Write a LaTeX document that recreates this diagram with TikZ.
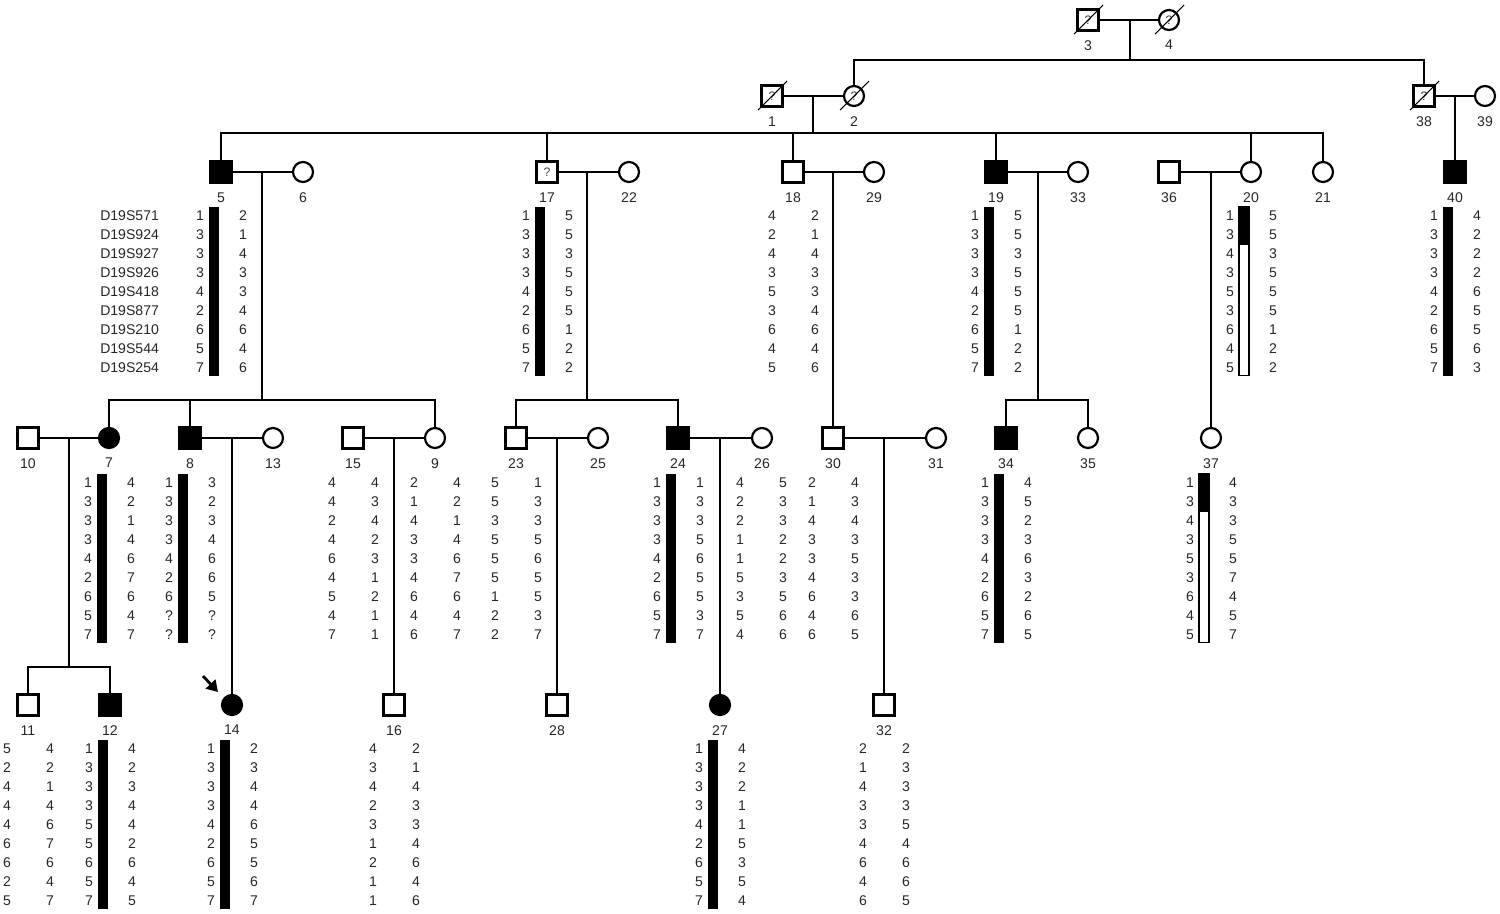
\documentclass[tikz,border=0pt]{standalone}
\usepackage{fontspec}
\setmainfont{Liberation Sans}
\usetikzlibrary{arrows.meta}

% alleles of one person: name, x of symbol, y of first row, left and right haplotype
\newcommand{\haplo}[5]{%
  \foreach \a [count=\i] in {#4}
    \node[allele] (#1l\i) at (#2-21, #3+19*\i-19) {\a};
  \foreach \a [count=\i] in {#5}
    \node[allele] (#1r\i) at (#2+22, #3+19*\i-19) {\a};
}
% disease haplotype bar, full or broken after marker 2
\newcommand{\hapbar}[2]{\fill (#1-12, #2-9.5) rectangle (#1-2, #2+159.5);}
\newcommand{\brokenbar}[2]{%
  \draw[line width=0.6pt, fill=white] (#1-12, #2-9.5) rectangle (#1-2, #2+159.5);
  \fill (#1-12, #2-9.5) rectangle (#1-2, #2+28.5);
}

\begin{document}
\begin{tikzpicture}[x=0.2mm, y=-0.2mm, font=\fontsize{8}{9.6}\selectfont, line width=1.25pt, label distance=1.6mm,
    male/.style = {draw, rectangle, minimum size=4.2mm, inner sep=0pt},
    female/.style = {draw, circle, minimum size=4mm, inner sep=0pt},
    aff/.style = {fill=black},
    unk/.style = {font=\fontsize{7}{8}\selectfont, text=black!75},
    idno/.style = {inner sep=0pt, text=black!85},
    allele/.style = {inner sep=0pt, text=black!85},
    marker/.style = {inner sep=0pt, anchor=east, text=black!85},
    slash/.style = {line width=0.6pt},
    proband/.style = {line width=1.6pt, -{Triangle[length=2.2mm, width=2.6mm]}}]
\useasboundingbox (0,0) rectangle (1500,913);

% generation I
\node[male, unk, label={[idno]below:3}] (p3) at (1088,20) {?};
\node[female, unk, label={[idno]below:4}] (p4) at (1169,20) {?};
% generation II
\node[male, unk, label={[idno]below:1}] (p1) at (772,96) {?};
\node[female, unk, label={[idno]below:2}] (p2) at (854,96) {?};
\node[male, unk, label={[idno]below:38}] (p38) at (1424,96) {?};
\node[female, label={[idno]below:39}] (p39) at (1485,96) {};
\foreach \d in {p3,p4,p1,p2,p38}
  \draw[slash] (\d) ++(-14,14) -- ++(29,-29);

% generation III
\node[male, aff, label={[idno]below:5}] (p5) at (221,172) {};
\node[female, label={[idno]below:6}] (p6) at (303,172) {};
\node[male, unk, label={[idno]below:17}] (p17) at (547,172) {?};
\node[female, label={[idno]below:22}] (p22) at (629,172) {};
\node[male, label={[idno]below:18}] (p18) at (793,172) {};
\node[female, label={[idno]below:29}] (p29) at (874,172) {};
\node[male, aff, label={[idno]below:19}] (p19) at (996,172) {};
\node[female, label={[idno]below:33}] (p33) at (1078,172) {};
\node[male, label={[idno]below:36}] (p36) at (1169,172) {};
\node[female, label={[idno]below:20}] (p20) at (1251,172) {};
\node[female, label={[idno]below:21}] (p21) at (1323,172) {};
\node[male, aff, label={[idno]below:40}] (p40) at (1455,172) {};

% generation IV
\node[male, label={[idno]below:10}] (p10) at (28,438) {};
\node[female, aff, label={[idno]below:7}] (p7) at (109,438) {};
\node[male, aff, label={[idno]below:8}] (p8) at (190,438) {};
\node[female, label={[idno]below:13}] (p13) at (273,438) {};
\node[male, label={[idno]below:15}] (p15) at (353,438) {};
\node[female, label={[idno]below:9}] (p9) at (435,438) {};
\node[male, label={[idno]below:23}] (p23) at (516,438) {};
\node[female, label={[idno]below:25}] (p25) at (598,438) {};
\node[male, aff, label={[idno]below:24}] (p24) at (678,438) {};
\node[female, label={[idno]below:26}] (p26) at (762,438) {};
\node[male, label={[idno]below:30}] (p30) at (833,438) {};
\node[female, label={[idno]below:31}] (p31) at (936,438) {};
\node[male, aff, label={[idno]below:34}] (p34) at (1006,438) {};
\node[female, label={[idno]below:35}] (p35) at (1088,438) {};
\node[female, label={[idno]below:37}] (p37) at (1211,438) {};

% generation V
\node[male, label={[idno]below:11}] (p11) at (28,705) {};
\node[male, aff, label={[idno]below:12}] (p12) at (110,705) {};
\node[female, aff, label={[idno]below:14}] (p14) at (232,705) {};
\node[male, label={[idno]below:16}] (p16) at (394,705) {};
\node[male, label={[idno]below:28}] (p28) at (557,705) {};
\node[female, aff, label={[idno]below:27}] (p27) at (720,705) {};
\node[male, label={[idno]below:32}] (p32) at (884,705) {};

% marriages and sibships
\coordinate (m3) at (1130,20);
\coordinate (s3) at (1130,60);
\draw (p3) -- (p4);
\draw (m3) -- (s3);
\draw (p2) |- (s3) -| (p38);

\coordinate (m1) at (813,96);
\coordinate (s1) at (813,133);
\draw (p1) -- (p2);
\draw (m1) -- (s1);
\draw (p5) |- (s1) -| (p21);
\foreach \c in {p17,p18,p19,p20}
  \draw (s1) -| (\c);
\coordinate (m38) at (1455,96);
\draw (p38) -- (p39);
\draw (m38) -- (p40);

\coordinate (m5) at (262,172);
\coordinate (s5) at (262,400);
\draw (p5) -- (p6);
\draw (m5) -- (s5);
\draw (p7) |- (s5) -| (p9);
\draw (s5) -| (p8);
\coordinate (m17) at (587,172);
\coordinate (s17) at (587,400);
\draw (p17) -- (p22);
\draw (m17) -- (s17);
\draw (p23) |- (s17) -| (p24);
\coordinate (m18) at (833,172);
\draw (p18) -- (p29);
\draw (m18) -- (p30);
\coordinate (m19) at (1038,172);
\coordinate (s19) at (1038,400);
\draw (p19) -- (p33);
\draw (m19) -- (s19);
\draw (p34) |- (s19) -| (p35);
\coordinate (m36) at (1211,172);
\draw (p36) -- (p20);
\draw (m36) -- (p37);

\coordinate (m10) at (69,438);
\coordinate (s10) at (69,667);
\draw (p10) -- (p7);
\draw (m10) -- (s10);
\draw (p11) |- (s10) -| (p12);
\coordinate (m8) at (232,438);
\draw (p8) -- (p13);
\draw (m8) -- (p14);
\coordinate (m15) at (394,438);
\draw (p15) -- (p9);
\draw (m15) -- (p16);
\coordinate (m23) at (557,438);
\draw (p23) -- (p25);
\draw (m23) -- (p28);
\coordinate (m24) at (720,438);
\draw (p24) -- (p26);
\draw (m24) -- (p27);
\coordinate (m30) at (884,438);
\draw (p30) -- (p31);
\draw (m30) -- (p32);

% proband
\coordinate (arr) at (203,676);
\draw[proband] (arr) -- ++(15,16);

% markers
\foreach \m [count=\i] in {D19S571,D19S924,D19S927,D19S926,D19S418,D19S877,D19S210,D19S544,D19S254}
  \node[marker] (mk\i) at (160,216+19*\i-19) {\m};

% haplotypes
\hapbar{221}{216}
\haplo{p5}{221}{216}{1,3,3,3,4,2,6,5,7}{2,1,4,3,3,4,6,4,6}
\hapbar{547}{216}
\haplo{p17}{547}{216}{1,3,3,3,4,2,6,5,7}{5,5,3,5,5,5,1,2,2}
\haplo{p18}{793}{216}{4,2,4,3,5,3,6,4,5}{2,1,4,3,3,4,6,4,6}
\hapbar{996}{216}
\haplo{p19}{996}{216}{1,3,3,3,4,2,6,5,7}{5,5,3,5,5,5,1,2,2}
\brokenbar{1251}{216}
\haplo{p20}{1251}{216}{1,3,4,3,5,3,6,4,5}{5,5,3,5,5,5,1,2,2}
\hapbar{1455}{216}
\haplo{p40}{1455}{216}{1,3,3,3,4,2,6,5,7}{4,2,2,2,6,5,5,6,3}

\hapbar{109}{483}
\haplo{p7}{109}{483}{1,3,3,3,4,2,6,5,7}{4,2,1,4,6,7,6,4,7}
\hapbar{190}{483}
\haplo{p8}{190}{483}{1,3,3,3,4,2,6,?,?}{3,2,3,4,6,6,5,?,?}
\haplo{p15}{353}{483}{4,4,2,4,6,4,5,4,7}{4,3,4,2,3,1,2,1,1}
\haplo{p9}{435}{483}{2,1,4,3,3,4,6,4,6}{4,2,1,4,6,7,6,4,7}
\haplo{p23}{516}{483}{5,5,3,5,5,5,1,2,2}{1,3,3,5,6,5,5,3,7}
\hapbar{678}{483}
\haplo{p24}{678}{483}{1,3,3,3,4,2,6,5,7}{1,3,3,5,6,5,5,3,7}
\haplo{p26}{761}{483}{4,2,2,1,1,5,3,5,4}{5,3,3,2,2,3,5,6,6}
\haplo{p30}{833}{483}{2,1,4,3,3,4,6,4,6}{4,3,4,3,5,3,3,6,5}
\hapbar{1006}{483}
\haplo{p34}{1006}{483}{1,3,3,3,4,2,6,5,7}{4,5,2,3,6,3,2,6,5}
\brokenbar{1211}{483}
\haplo{p37}{1211}{483}{1,3,4,3,5,3,6,4,5}{4,3,3,5,5,7,4,5,7}

\haplo{p11}{28}{749}{5,2,4,4,4,6,6,2,5}{4,2,1,4,6,7,6,4,7}
\hapbar{110}{749}
\haplo{p12}{110}{749}{1,3,3,3,5,5,6,5,7}{4,2,3,4,4,2,6,4,5}
\hapbar{232}{749}
\haplo{p14}{232}{749}{1,3,3,3,4,2,6,5,7}{2,3,4,4,6,5,5,6,7}
\haplo{p16}{394}{749}{4,3,4,2,3,1,2,1,1}{2,1,4,3,3,4,6,4,6}
\hapbar{720}{749}
\haplo{p27}{720}{749}{1,3,3,3,4,2,6,5,7}{4,2,2,1,1,5,3,5,4}
\haplo{p32}{884}{749}{2,1,4,3,3,4,6,4,6}{2,3,3,3,5,4,6,6,5}
\end{tikzpicture}
\end{document}
